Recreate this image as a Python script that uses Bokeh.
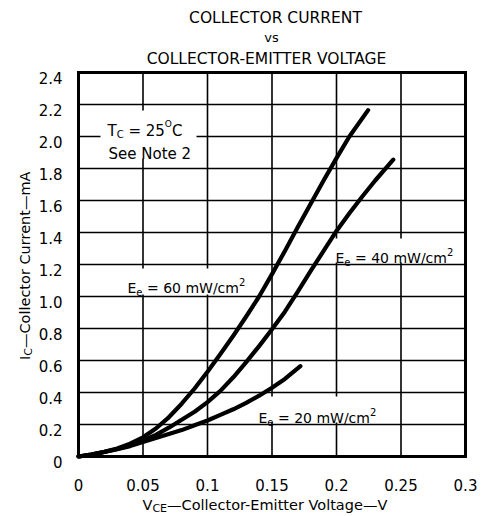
import math
from bokeh.plotting import figure
from bokeh.models import Range1d, Label
from bokeh.embed import file_html
from bokeh.resources import INLINE

# ---------------- data ----------------
x_ticks = [0, 0.05, 0.1, 0.15, 0.2, 0.25, 0.3]
x_tick_labels = ["0", "0.05", "0.1", "0.15", "0.2", "0.25", "0.3"]
y_ticks = [0, 0.2, 0.4, 0.6, 0.8, 1.0, 1.2, 1.4, 1.6, 1.8, 2.0, 2.2, 2.4]
y_tick_labels = ["0", "0.2", "0.4", "0.6", "0.8", "1.0", "1.2", "1.4",
                 "1.6", "1.8", "2.0", "2.2", "2.4"]

# Ee = 60 mW/cm2
v_60 = [0, 0.01, 0.02, 0.03, 0.04, 0.05, 0.06, 0.07, 0.08, 0.09, 0.10, 0.11, 0.12,
        0.13, 0.14, 0.15, 0.16, 0.17, 0.18, 0.19, 0.20, 0.21, 0.2245]
i_60 = [0, 0.012, 0.03, 0.05, 0.08, 0.12, 0.175, 0.245, 0.33, 0.425, 0.53, 0.64, 0.755,
        0.875, 1.0, 1.14, 1.285, 1.435, 1.58, 1.725, 1.865, 2.0, 2.165]
# Ee = 40 mW/cm2
v_40 = [0, 0.01, 0.02, 0.03, 0.04, 0.05, 0.06, 0.07, 0.08, 0.09, 0.10, 0.11, 0.12,
        0.13, 0.14, 0.15, 0.16, 0.17, 0.18, 0.19, 0.20, 0.21, 0.22, 0.23, 0.244]
i_40 = [0, 0.012, 0.028, 0.047, 0.07, 0.10, 0.135, 0.18, 0.23, 0.28, 0.34, 0.41, 0.495,
        0.59, 0.69, 0.795, 0.905, 1.03, 1.16, 1.285, 1.41, 1.52, 1.625, 1.725, 1.855]
# Ee = 20 mW/cm2
v_20 = [0, 0.01, 0.02, 0.03, 0.04, 0.05, 0.06, 0.07, 0.08, 0.09, 0.10, 0.11, 0.12,
        0.13, 0.14, 0.15, 0.16, 0.172]
i_20 = [0, 0.012, 0.028, 0.045, 0.065, 0.09, 0.115, 0.14, 0.165, 0.195, 0.225, 0.26, 0.295,
        0.335, 0.38, 0.43, 0.485, 0.565]

# ---------------- layout (canvas pixels) ----------------
FONT = "DejaVu Sans"
W, H = 482, 516
BOX_L, BOX_R, BOX_T, BOX_B = 78, 465, 72, 456   # plot box in canvas pixels
XMIN, XMAX = x_ticks[0], x_ticks[-1]
YMIN, YMAX = y_ticks[0], y_ticks[-1]
SX = (BOX_R - BOX_L) / (XMAX - XMIN)   # px per V
SY = (BOX_B - BOX_T) / (YMAX - YMIN)   # px per mA

def dx(px):
    return XMIN + (px - BOX_L) / SX

def dy(py):
    return YMIN + (BOX_B - py) / SY

CW = {' ': 0.318, '=': 0.838, '.': 0.318, '/': 0.337, '-': 0.361, '\u2014': 1.0,
      'm': 0.974, 'W': 0.989, 'c': 0.550, 'e': 0.615, 'E': 0.632, 'C': 0.698,
      'T': 0.611, 'S': 0.635, 'N': 0.748, 'o': 0.612, 't': 0.392, 'V': 0.684,
      'l': 0.278, 'r': 0.411, 'n': 0.634, 'u': 0.634, 'g': 0.635, 'a': 0.613,
      'i': 0.278, 'O': 0.787, 'I': 0.295, 'A': 0.684, 'M': 0.863, 'R': 0.695,
      'L': 0.557, 'G': 0.775, 'v': 0.592, 's': 0.521, 'U': 0.732}
for d in "0123456789":
    CW[d] = 0.636

def tw(s, size):
    return sum(CW.get(ch, 0.6) for ch in s) * size

p = figure(width=W, height=H,
           x_range=Range1d(dx(0), dx(W)), y_range=Range1d(dy(H), dy(0)),
           x_axis_type=None, y_axis_type=None,
           output_backend="svg", toolbar_location=None,
           min_border=0, min_border_left=0, min_border_right=0,
           min_border_top=0, min_border_bottom=0)
p.background_fill_color = "white"
p.border_fill_color = "white"
p.outline_line_color = None
p.grid.visible = False

# grid lines at the ticks
nx, ny = len(x_ticks), len(y_ticks)
p.segment(x0=x_ticks, x1=x_ticks, y0=[YMIN] * nx, y1=[YMAX] * nx,
          line_color="black", line_width=1.6)
p.segment(x0=[XMIN] * ny, x1=[XMAX] * ny, y0=y_ticks, y1=y_ticks,
          line_color="black", line_width=1.6)

# white boxes hiding grid behind in-plot labels (canvas px: l, r, t, b)
boxes = [(100, 196, 110, 158),   # Tc / See Note 2
         (122, 250, 268, 294),   # 60
         (333, 463, 238, 262),   # 40
         (255, 380, 396, 422)]   # 20
p.quad(left=[dx(b[0]) for b in boxes], right=[dx(b[1]) for b in boxes],
       top=[dy(b[2]) for b in boxes], bottom=[dy(b[3]) for b in boxes],
       fill_color="white", line_color=None)

# curves
for vs, cs in ((v_60, i_60), (v_40, i_40), (v_20, i_20)):
    p.line(vs, cs, line_width=4.2, line_color="black", line_join="round", line_cap="round")

# plot frame
p.quad(left=[XMIN], right=[XMAX], bottom=[YMIN], top=[YMAX],
       fill_color=None, line_color="black", line_width=3, line_join="miter")

# tick labels
p.text(x=x_ticks, y=[dy(484.5)] * nx, text=x_tick_labels,
       text_font={"value": FONT}, text_font_size={"value": "15px"},
       text_align="center", text_baseline="alphabetic", text_color="black")
p.text(x=[dx(62)] * ny, y=[t - 5.5 / SY for t in y_ticks], text=y_tick_labels,
       text_font={"value": FONT}, text_font_size={"value": "15px"},
       text_align="right", text_baseline="alphabetic", text_color="black")

def put(px, py, text, size, align="left", angle=0.0):
    p.add_layout(Label(x=XMIN, y=YMIN, x_offset=px - BOX_L, y_offset=BOX_B - py,
                       text=text, text_font=FONT, text_font_size=f"{size}px",
                       text_color="black", text_align=align, text_baseline="alphabetic",
                       angle=angle))

def rich(px, py, parts):
    """parts: list of (text, size, dy) placed left to right."""
    x = px
    for text, size, off in parts:
        lead = len(text) - len(text.lstrip(" "))
        x += tw(" " * lead, size)
        body = text.lstrip(" ")
        put(x, py + off, body, size)
        x += tw(body, size)

# titles
put(275, 17, "COLLECTOR CURRENT", 15.5, align="center")
put(271, 37, "vs", 13, align="center")
put(266, 58, "COLLECTOR-EMITTER VOLTAGE", 15.5, align="center")

# in-plot labels
rich(107, 130, [("T", 15, 0), ("C", 10, 4), (" = 25", 15, 0), ("O", 9, -7), ("C", 15, 0)])
rich(108, 153, [("See Note 2", 15, 0)])
rich(127, 287, [("E", 14, 0), ("e", 10, 4), (" = 60 mW/cm", 14, 0), ("2", 10, -6)])
rich(335, 257, [("E", 14, 0), ("e", 10, 4), (" = 40 mW/cm", 14, 0), ("2", 10, -6)])
rich(258, 417, [("E", 14, 0), ("e", 10, 4), (" = 20 mW/cm", 14, 0), ("2", 10, -6)])

# x axis title
rich(142, 504, [("V", 14.5, 0), ("CE", 11, 3.5), ("\u2014Collector-Emitter Voltage\u2014V", 14.5, 0)])

# y axis title (rotated, reading upward)
y_parts = [("I", 14.5, 0), ("C", 11, 4), ("\u2014Collector Current\u2014mA", 14.5, 0)]
total = sum(tw(t, s) for t, s, _ in y_parts)
ypos = 265 + total / 2
for text, size, off in y_parts:
    put(24 + off, ypos, text, size, angle=math.pi / 2)
    ypos -= tw(text, size)

open("out.html", "w").write(file_html(p, INLINE))
